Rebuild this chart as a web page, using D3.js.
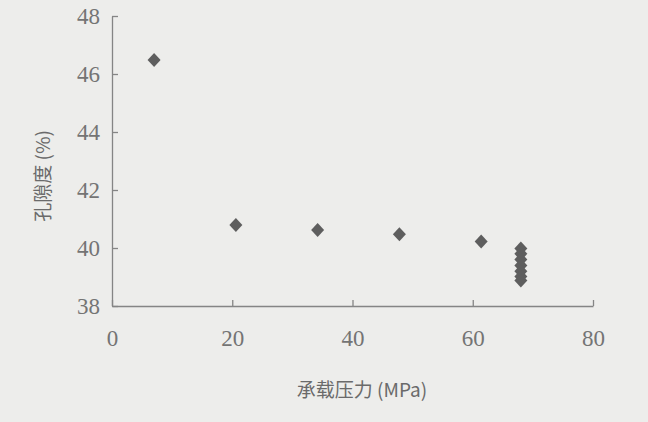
<!DOCTYPE html>
<html>
<head>
<meta charset="utf-8">
<script src="https://cdn.jsdelivr.net/npm/d3@7"></script>
<style>
  body { margin: 0; background: #ededeb; }
  svg { display: block; }
  .axis path, .axis line { stroke: #858585; stroke-width: 1.3; }
  .axis text { fill: #747474; font-family: "Liberation Serif", "DejaVu Serif", serif; font-size: 23px; }
  .label { fill: #6a6a6a; font-family: "Noto Sans CJK SC", sans-serif; font-size: 19px; }
</style>
</head>
<body>
<svg width="648" height="422"></svg>
<script>
// 承载压力 (MPa) en 孔隙度 (%)
var pressure = [7, 20.6, 34.2, 47.8, 61.4, 68, 68, 68, 68, 68, 68, 68];
var porosity = [46.48, 40.79, 40.62, 40.47, 40.22, 39.98, 39.8, 39.6, 39.4, 39.2, 39.02, 38.88];
var xTicks = [0, 20, 40, 60, 80];
var yTicks = [38, 40, 42, 44, 46, 48];

var svg = d3.select("svg"),
    margin = { top: 16, right: 55, bottom: 116, left: 112 },
    width = +svg.attr("width") - margin.left - margin.right,
    height = +svg.attr("height") - margin.top - margin.bottom;

var x = d3.scaleLinear().domain([0, 80]).range([0, width]),
    y = d3.scaleLinear().domain([38, 48]).range([height, 0]);

var g = svg.append("g")
    .attr("transform", "translate(" + margin.left + "," + margin.top + ")");

// x as met ticks naar binnen
g.append("g")
    .attr("class", "axis")
    .attr("transform", "translate(0," + height + ")")
    .call(d3.axisBottom(x).tickValues(xTicks).tickSizeInner(-6).tickSizeOuter(0).tickPadding(24));

// y as
g.append("g")
    .attr("class", "axis")
    .call(d3.axisLeft(y).tickValues(yTicks).tickSizeInner(-6).tickSizeOuter(0).tickPadding(12));

// punten als ruit
var data = pressure.map(function (p, i) { return { p: p, v: porosity[i] }; });
g.selectAll(".dot")
    .data(data)
    .enter().append("path")
    .attr("class", "dot")
    .attr("d", "M0,-7L6.5,0L0,7L-6.5,0Z")
    .attr("fill", "#5e5e5e")
    .attr("transform", function (d) {
        return "translate(" + x(d.p) + "," + y(d.v) + ")";
    });

// as titels
svg.append("text")
    .attr("class", "label")
    .attr("x", 362)
    .attr("y", 397)
    .attr("text-anchor", "middle")
    .text("承载压力 (MPa)");

svg.append("text")
    .attr("class", "label")
    .attr("transform", "translate(50,176) rotate(-90)")
    .attr("text-anchor", "middle")
    .text("孔隙度 (%)");
</script>
</body>
</html>
